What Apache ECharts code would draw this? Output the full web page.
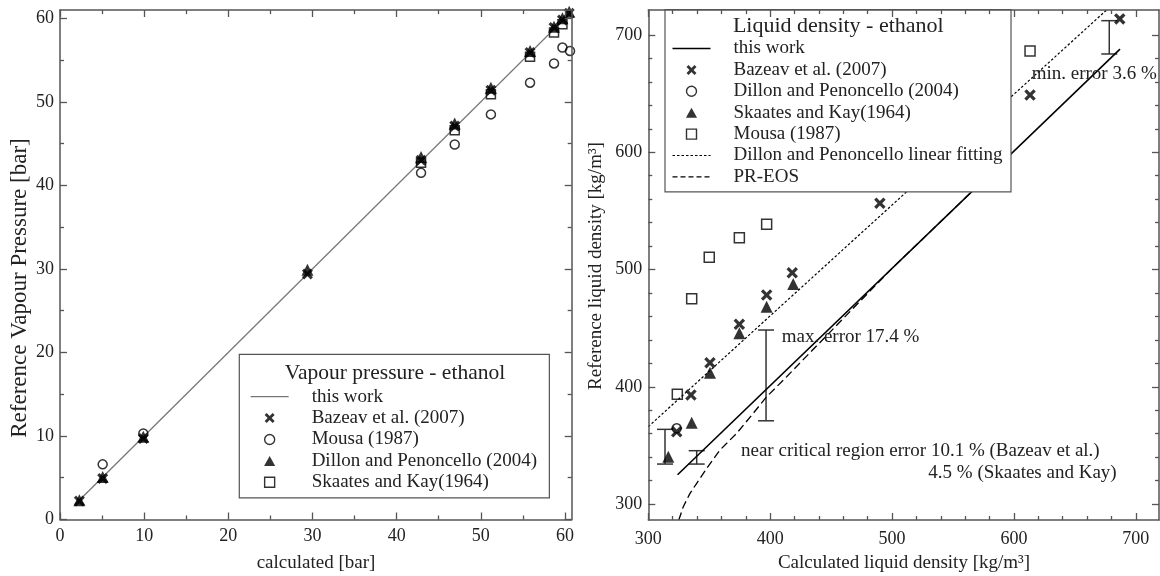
<!DOCTYPE html>
<html>
<head>
<meta charset="utf-8">
<script src="https://cdn.jsdelivr.net/npm/echarts@6/dist/echarts.min.js"></script>
<style>
  html, body { margin: 0; padding: 0; background: #fff; }
  #chart { width: 1160px; height: 576px; }
</style>
</head>
<body>
<div id="chart"></div>
<script>
// ---------- Vapour pressure of ethanol [bar]: calculated vs reference ----------
const vpCalc        = [2.3, 5.07, 9.9, 29.4, 42.9, 46.9, 51.2, 55.85, 58.7, 59.7, 60.5];
const vpBazeav      = [2.2, 4.9, 9.7, 29.4, 43.0, 47.1, 51.4, 55.9, 58.9, 59.8, 60.6];
const vpDillon      = [2.3, 5.1, 9.9, 29.9, 43.4, 47.4, 51.7, 56.1, 59.0, 60.0, 60.8];
const vpMousaCalc   = [5.07, 9.9, 42.9, 46.9, 51.2, 55.85, 58.7, 59.7, 60.6];
const vpMousa       = [6.6, 10.3, 41.5, 44.9, 48.5, 52.3, 54.6, 56.5, 56.1];
const vpSkaatesCalc = [42.9, 46.9, 51.2, 55.85, 58.7, 59.7];
const vpSkaates     = [42.7, 46.6, 50.9, 55.4, 58.3, 59.3];
const vpThisWork    = [2.3, 61];

const vpMajorTicks = [0, 10, 20, 30, 40, 50, 60];
const vpMinorTicks = [5, 15, 25, 35, 45, 55];

// ---------- Liquid density of ethanol [kg/m3]: calculated vs reference ----------
const ldBazeavCalc  = [323.3, 335.0, 350.6, 374.7, 397.1, 418.1, 490.0, 613.2, 686.8];
const ldBazeav      = [361.7, 393.0, 420.5, 453.3, 478.3, 497.3, 556.5, 648.8, 713.7];
const ldDillonCalc  = [323.3];
const ldDillon      = [364.6];
const ldSkaatesCalc = [316.4, 335.6, 350.6, 374.7, 397.1, 418.9];
const ldSkaates     = [340.3, 369.4, 412.0, 445.6, 468.3, 487.6];
const ldMousaCalc   = [323.8, 335.6, 350.0, 374.7, 397.1, 613.2];
const ldMousa       = [393.6, 475.0, 510.4, 527.1, 538.5, 686.4];
const ldThisWorkCalc = [324, 687];
const ldThisWork     = [325, 688];
const ldFitCalc      = [300, 676];
const ldFit          = [366, 721.3];
const ldPrEosCalc    = [325.0, 328.7, 334.2, 339.7, 347.9, 358.8, 372.5, 386.1, 397.1, 413.5, 500, 580];
const ldPrEos        = [286.4, 297.7, 309.1, 317.7, 330.4, 346.1, 360.3, 377.4, 391.5, 408.6, 501, 581];

// error bars: position on the calculated axis, lower and upper reference value
const errCalc = [313.7, 339.7, 396.6, 678.2];
const errLow  = [334.1, 334.1, 371.0, 683.8];
const errHigh = [363.7, 345.5, 448.4, 712.2];

const ldMajorTicks  = [300, 400, 500, 600, 700];
const ldMinorXTicks = [320, 340, 360, 380, 420, 440, 460, 480, 520, 540, 560, 580, 620, 640, 660, 680];
const ldMinorYTicks = [320, 340, 360, 380, 420, 440, 460, 480, 520, 540, 560, 580, 620, 640, 660, 680];

// ---------- styling ----------
const FONT = "'Liberation Serif', 'Times New Roman', serif";
const AXIS = '#555';
const INK = '#000';
const CROSS = 'path://M2,0 L5,3 L8,0 L10,2 L7,5 L10,8 L8,10 L5,7 L2,10 L0,8 L3,5 L0,2 Z';
// legend key shapes as paths so they keep their proportions inside the key box
const KEY_TRI = 'path://M5,0 L10,9 L0,9 Z';
const KEY_SQR = 'path://M0,0 L10,0 L10,10 L0,10 Z';
const KEY_CIR = 'path://M0,5 A5,5 0 1 0 10,5 A5,5 0 1 0 0,5 Z';

const zip = (xs, ys) => xs.map((x, i) => [x, ys[i]]);

// four axes per direction: labelled + major ticks, minor ticks, mirrored major, mirrored minor
function axisGroup(dim, gridIndex, min, max, majors, minors, labelMargin) {
  const sides = dim === 'x' ? ['bottom', 'top'] : ['left', 'right'];
  const base = { type: 'value', gridIndex, min, max, splitLine: { show: false } };
  const make = (side, ticks, len, withLine, withLabel) => Object.assign({}, base, {
    position: side,
    z: 10,
    axisLine: { show: withLine, onZero: false, lineStyle: { color: AXIS, width: 1.5 } },
    axisTick: { show: true, inside: true, length: len, customValues: ticks,
                lineStyle: { color: AXIS, width: 1.3 } },
    axisLabel: withLabel
      ? { show: true, customValues: majors, margin: labelMargin, color: '#222',
          fontFamily: FONT, fontSize: 18 }
      : { show: false }
  });
  return [
    make(sides[0], majors, 7, true, true),
    make(sides[0], minors, 4, false, false),
    make(sides[1], majors, 7, true, false),
    make(sides[1], minors, 4, false, false)
  ];
}

const xAxes = [
  ...axisGroup('x', 0, 0, 60.8, vpMajorTicks, vpMinorTicks, 8),
  ...axisGroup('x', 1, 300, 719, ldMajorTicks, ldMinorXTicks, 10)
];
const yAxes = [
  ...axisGroup('y', 0, 0, 61, vpMajorTicks, vpMinorTicks, 6),
  ...axisGroup('y', 1, 286.4, 721.3, ldMajorTicks, ldMinorYTicks, 6)
];

const hollow = (size, symbol) => ({
  symbol, symbolSize: size,
  itemStyle: { color: 'rgba(0,0,0,0)', borderColor: INK, borderWidth: 1.5 }
});
const filled = (size, symbol) => ({
  symbol, symbolSize: size, itemStyle: { color: INK }
});

function scatter(name, g, data, look) {
  return Object.assign({ type: 'scatter', name, xAxisIndex: g * 4, yAxisIndex: g * 4, data,
    emphasis: { disabled: true }, z: 3 }, look);
}
function line(name, g, data, lineStyle, z) {
  return { type: 'line', name, xAxisIndex: g * 4, yAxisIndex: g * 4, data, symbol: 'none',
    lineStyle, itemStyle: { color: lineStyle.color }, z: z || 2, emphasis: { disabled: true } };
}

const series = [
  // vapour pressure panel
  line('this work', 0, zip(vpThisWork, vpThisWork), { color: '#777', width: 1.3 }),
  scatter('Skaates and Kay(1964)', 0, zip(vpSkaatesCalc, vpSkaates), hollow(9, 'rect')),
  scatter('Mousa (1987)', 0, zip(vpMousaCalc, vpMousa), hollow(9, 'circle')),
  scatter('Bazeav et al. (2007)', 0, zip(vpCalc, vpBazeav), filled(11, CROSS)),
  scatter('Dillon and Penoncello (2004)', 0, zip(vpCalc, vpDillon), filled(12, 'triangle')),

  // liquid density panel
  line('Dillon and Penoncello linear fitting', 1, zip(ldFitCalc, ldFit),
       { color: INK, width: 1.2, type: [2.5, 2] }),
  line('PR-EOS', 1, zip(ldPrEosCalc, ldPrEos), { color: INK, width: 1.3, type: [8, 4] }),
  line('this work', 1, zip(ldThisWorkCalc, ldThisWork), { color: INK, width: 1.6 }),
  {
    type: 'custom', name: 'error', xAxisIndex: 4, yAxisIndex: 4, z: 2,
    data: errCalc.map((x, i) => [x, errLow[i], errHigh[i]]),
    renderItem(params, api) {
      const lo = api.coord([api.value(0), api.value(1)]);
      const hi = api.coord([api.value(0), api.value(2)]);
      const c = 8;
      const st = { stroke: '#333', lineWidth: 1.5 };
      return { type: 'group', children: [
        { type: 'line', shape: { x1: hi[0], y1: hi[1], x2: lo[0], y2: lo[1] }, style: st },
        { type: 'line', shape: { x1: hi[0] - c, y1: hi[1], x2: hi[0] + c, y2: hi[1] }, style: st },
        { type: 'line', shape: { x1: lo[0] - c, y1: lo[1], x2: lo[0] + c, y2: lo[1] }, style: st }
      ] };
    }
  },
  scatter('Mousa (1987)', 1, zip(ldMousaCalc, ldMousa), hollow(10, 'rect')),
  scatter('Dillon and Penoncello (2004)', 1, zip(ldDillonCalc, ldDillon), hollow(9, 'circle')),
  scatter('Skaates and Kay(1964)', 1, zip(ldSkaatesCalc, ldSkaates), filled(12, 'triangle')),
  scatter('Bazeav et al. (2007)', 1, zip(ldBazeavCalc, ldBazeav), filled(11.5, CROSS))
];

// legend keys (names are shared between panels, so each key states its own look)
const keyLine = (name, color, width, type) => ({
  name,
  lineStyle: { color, width, type: type || 'solid' },
  itemStyle: { color: 'rgba(0,0,0,0)', borderColor: 'rgba(0,0,0,0)', borderWidth: 0 }
});
const keyHollow = (name, icon) => ({ name, icon,
  itemStyle: { color: 'rgba(0,0,0,0)', borderColor: INK, borderWidth: 1.4 } });
const keyFilled = (name, icon) => ({ name, icon, itemStyle: { color: INK, borderWidth: 0 } });

const legendBase = {
  orient: 'vertical', itemWidth: 38, itemHeight: 10, itemGap: 1.4, selectedMode: false,
  symbolKeepAspect: true,
  borderColor: '#555', borderWidth: 1.2, backgroundColor: '#fff', borderRadius: 0,
  textStyle: { fontFamily: FONT, fontSize: 19, color: '#222', lineHeight: 20, padding: [0, 0, 0, 18] }
};

const legends = [
  Object.assign({}, legendBase, {
    left: 239.3, top: 354.3, padding: [32.4, 12.4, 5.6, 10.7],
    data: [
      keyLine('this work', '#777', 1.3),
      keyFilled('Bazeav et al. (2007)', CROSS),
      keyHollow('Mousa (1987)', KEY_CIR),
      keyFilled('Dillon and Penoncello (2004)', KEY_TRI),
      keyHollow('Skaates and Kay(1964)', KEY_SQR)
    ]
  }),
  Object.assign({}, legendBase, {
    left: 665, top: 9.5, padding: [29, 8.4, 5, 6.7],
    data: [
      keyLine('this work', INK, 1.6),
      keyFilled('Bazeav et al. (2007)', CROSS),
      keyHollow('Dillon and Penoncello (2004)', KEY_CIR),
      keyFilled('Skaates and Kay(1964)', KEY_TRI),
      keyHollow('Mousa (1987)', KEY_SQR),
      keyLine('Dillon and Penoncello linear fitting', INK, 1.2, [2.5, 2]),
      keyLine('PR-EOS', INK, 1.3, [5, 3])
    ]
  })
];

function label(text, x, y, size, opts) {
  opts = opts || {};
  const align = opts.align || 'center';
  return {
    type: 'text', x, y, rotation: opts.rotation || 0, z: 100, silent: true,
    style: { text, fill: '#222', font: size + 'px ' + FONT,
             align, textAlign: align, verticalAlign: 'middle', textVerticalAlign: 'middle' }
  };
}

const graphic = [
  label('Reference Vapour Pressure [bar]', 19.5, 288, 23, { rotation: Math.PI / 2 }),
  label('calculated [bar]', 316, 563, 19),
  label('Reference liquid density [kg/m³]', 596, 266, 19, { rotation: Math.PI / 2 }),
  label('Calculated liquid density [kg/m³]', 904, 563, 19),
  label('Vapour pressure - ethanol', 395, 373.3, 21.5),
  label('Liquid density - ethanol', 838.3, 26, 22),
  label('max. error 17.4 %', 781.7, 336.7, 19, { align: 'left' }),
  label('near critical region error 10.1 % (Bazeav et al.)', 741, 450.7, 19, { align: 'left' }),
  label('4.5 % (Skaates and Kay)', 928.3, 472.7, 19, { align: 'left' }),
  label('min. error 3.6 %', 1031.7, 74, 19, { align: 'left' })
];

const chart = echarts.init(document.getElementById('chart'), null, { renderer: 'canvas' });
chart.setOption({
  animation: false,
  backgroundColor: '#fff',
  textStyle: { fontFamily: FONT },
  grid: [
    { left: 60, top: 10, width: 511.7, height: 509.5, containLabel: false, outerBoundsMode: 'none' },
    { left: 648.3, top: 10, width: 510.7, height: 510, containLabel: false, outerBoundsMode: 'none' }
  ],
  xAxis: xAxes,
  yAxis: yAxes,
  legend: legends,
  series,
  graphic
});
</script>
</body>
</html>
